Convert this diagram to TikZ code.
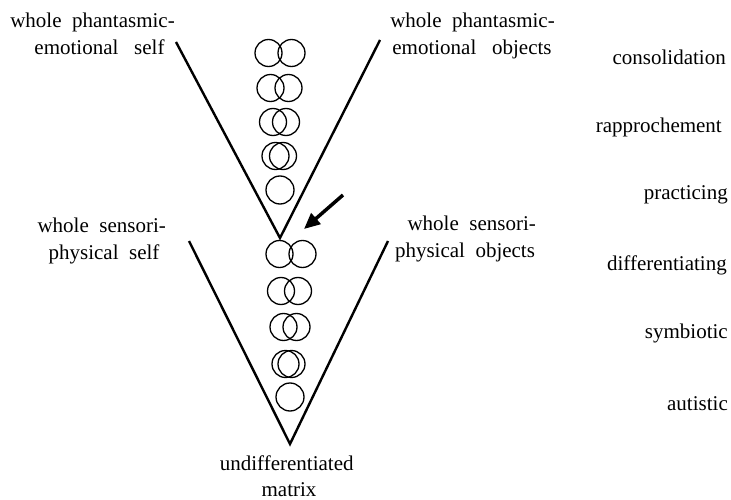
\documentclass[tikz,border=0pt]{standalone}
\usepackage{fontspec}
\setmainfont{Liberation Serif}
\usetikzlibrary{arrows.meta}
\newcommand\labelfont{\fontsize{21}{27}\selectfont\spaceskip 0.5em plus 0.1em\relax}
\begin{document}
\begin{tikzpicture}[x=1pt,y=-1pt,
  lbl/.style={inner sep=0pt,font=\labelfont},
  ring/.style={circle,draw,line width=1.3pt,inner sep=0pt,minimum size=27pt},
  bigring/.style={circle,draw,line width=1.3pt,inner sep=0pt,minimum size=28pt},
  vline/.style={line width=2.4pt},
  pointer/.style={line width=3.5pt,-{Triangle[length=16pt,width=14pt]}}]
\useasboundingbox (0,0) rectangle (731,500);
% upper V
\coordinate (uvl) at (176,42);
\coordinate (uvr) at (380,40);
\coordinate (uvtip) at (280,238);
\draw[vline] (uvl) -- (uvtip) -- (uvr);
% lower V
\coordinate (lvl) at (189,241);
\coordinate (lvr) at (388,241);
\coordinate (lvtip) at (290,444);
\draw[vline] (lvl) -- (lvtip) -- (lvr);
% upper circles
\node[ring] (u1a) at (268.5,53) {};
\node[ring] (u1b) at (291.5,53) {};
\node[ring] (u2a) at (270.5,88) {};
\node[ring] (u2b) at (288.5,88) {};
\node[ring] (u3a) at (273,122) {};
\node[ring] (u3b) at (286,122) {};
\node[ring] (u4a) at (275.5,156) {};
\node[ring] (u4b) at (283,156) {};
\node[bigring] (u5) at (280,190) {};
% lower circles
\node[ring] (l1a) at (279.5,254) {};
\node[ring] (l1b) at (302.5,254) {};
\node[ring] (l2a) at (281,291) {};
\node[ring] (l2b) at (298,291) {};
\node[ring] (l3a) at (283.5,327) {};
\node[ring] (l3b) at (296.5,327) {};
\node[ring] (l4a) at (285.5,364) {};
\node[ring] (l4b) at (291.5,364) {};
\node[bigring] (l5) at (290,397) {};
% arrow
\coordinate (arrtail) at (343,195);
\coordinate (arrtip) at (304,229);
\draw[pointer] (arrtail) -- (arrtip);
% labels
\node[lbl,anchor=base] (ul1) at (92.5,28) {whole phantasmic-};
\node[lbl,anchor=base] (ul2) at (99.5,55) {emotional\hspace{0.25em} self};
\node[lbl,anchor=base] (ur1) at (472.5,28) {whole phantasmic-};
\node[lbl,anchor=base] (ur2) at (472,55) {emotional\hspace{0.25em} objects};
\node[lbl,anchor=base] (ll1) at (101.7,232) {whole sensori-};
\node[lbl,anchor=base] (ll2) at (104,259) {physical self};
\node[lbl,anchor=base] (lr1) at (471.7,230) {whole sensori-};
\node[lbl,anchor=base] (lr2) at (465,257) {physical objects};
\node[lbl,anchor=base] (bm1) at (286.7,470) {undifferentiated};
\node[lbl,anchor=base] (bm2) at (289,496) {matrix};
\node[lbl,anchor=base east] (s1) at (726,65) {consolidation};
\node[lbl,anchor=base east] (s2) at (722,133) {rapprochement};
\node[lbl,anchor=base east] (s3) at (728,200) {practicing};
\node[lbl,anchor=base east] (s4) at (727,270) {differentiating};
\node[lbl,anchor=base east] (s5) at (728,338) {symbiotic};
\node[lbl,anchor=base east] (s6) at (728,410) {autistic};
\end{tikzpicture}
\end{document}
